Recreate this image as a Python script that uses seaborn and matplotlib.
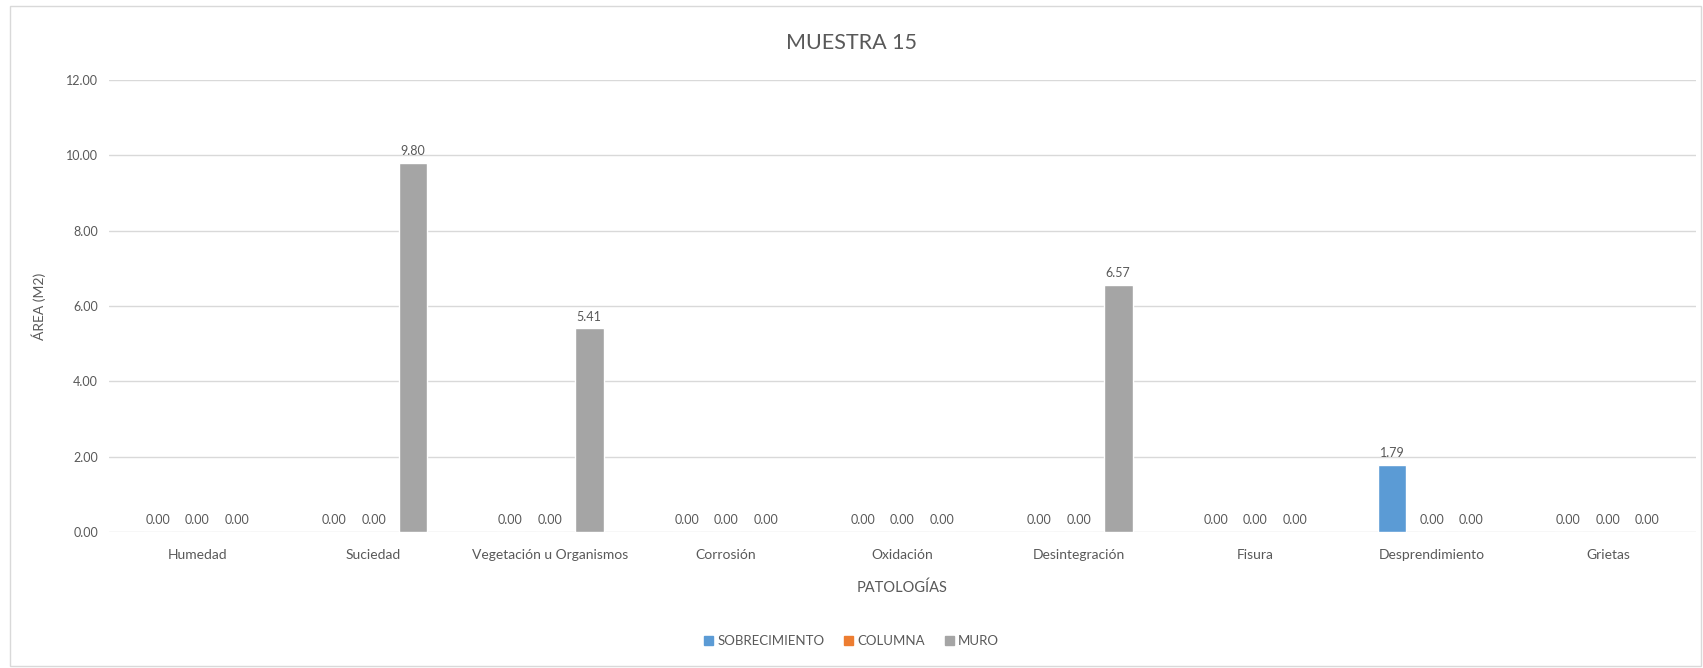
import matplotlib.pyplot as plt
import matplotlib.patches as mpatches
import seaborn as sns
import pandas as pd

categorias = ['Humedad', 'Suciedad', 'Vegetación u Organismos', 'Corrosión',
              'Oxidación', 'Desintegración', 'Fisura', 'Desprendimiento', 'Grietas']
sobrecimiento = [0.00, 0.00, 0.00, 0.00, 0.00, 0.00, 0.00, 1.79, 0.00]
columna = [0.00, 0.00, 0.00, 0.00, 0.00, 0.00, 0.00, 0.00, 0.00]
muro = [0.00, 9.80, 5.41, 0.00, 0.00, 6.57, 0.00, 0.00, 0.00]
series = ['SOBRECIMIENTO', 'COLUMNA', 'MURO']
colores = ['#5B9BD5', '#ED7D31', '#A5A5A5']

filas = []
for nombre, vals in zip(series, [sobrecimiento, columna, muro]):
    for c, v in zip(categorias, vals):
        filas.append({'Patología': c, 'Elemento': nombre, 'Área': v})
df = pd.DataFrame(filas)

sns.set_theme(style='white')
plt.rcParams['font.family'] = ['Lato', 'DejaVu Sans']
gris = '#595959'

fig = plt.figure(figsize=(17.03, 6.68), dpi=100)
ax = fig.add_axes([109 / 1703, 1 - 532 / 668, (1696 - 109) / 1703, (532 - 80) / 668])

sns.barplot(data=df, x='Patología', y='Área', hue='Elemento', hue_order=series,
            order=categorias, palette=colores, width=0.67, gap=0.27, ax=ax,
            legend=False, saturation=1)

for cont in ax.containers:
    ax.bar_label(cont, fmt='%.2f', padding=4, fontsize=9, color=gris)

ax.set_ylim(0, 12)
ax.set_yticks(range(0, 13, 2))
ax.set_yticklabels([f'{v:.2f}' for v in range(0, 13, 2)])
ax.set_xlim(-0.5, len(categorias) - 0.5)
ax.grid(axis='y', color='#D9D9D9', linewidth=1)
ax.set_axisbelow(True)
for s in ax.spines.values():
    s.set_visible(False)
ax.tick_params(axis='both', length=0, labelsize=9, colors=gris, pad=8)
ax.tick_params(axis='x', pad=12, labelsize=10)
ax.set_xlabel('PATOLOGÍAS', fontsize=10.5, color=gris, labelpad=14)
ax.set_ylabel('ÁREA (M2)', fontsize=10, color=gris, labelpad=14)

fig.text(0.5, 1 - 43 / 668, 'MUESTRA 15', ha='center', va='center', fontsize=15.5, color=gris)

handles = [mpatches.Patch(color=c, label=n) for c, n in zip(colores, series)]
fig.legend(handles=handles, loc='center', bbox_to_anchor=(0.5, 1 - 641 / 668), ncol=3,
           frameon=False, fontsize=9.5, handlelength=0.7, handleheight=0.7,
           handletextpad=0.3, columnspacing=1.5, labelcolor=gris)

fig.patches.append(mpatches.Rectangle((10 / 1703, 2 / 668), 1 - 12 / 1703, 1 - 8 / 668,
                                      transform=fig.transFigure, fill=False,
                                      edgecolor='#D9D9D9', linewidth=1))

fig.savefig('out.png', dpi=100)
